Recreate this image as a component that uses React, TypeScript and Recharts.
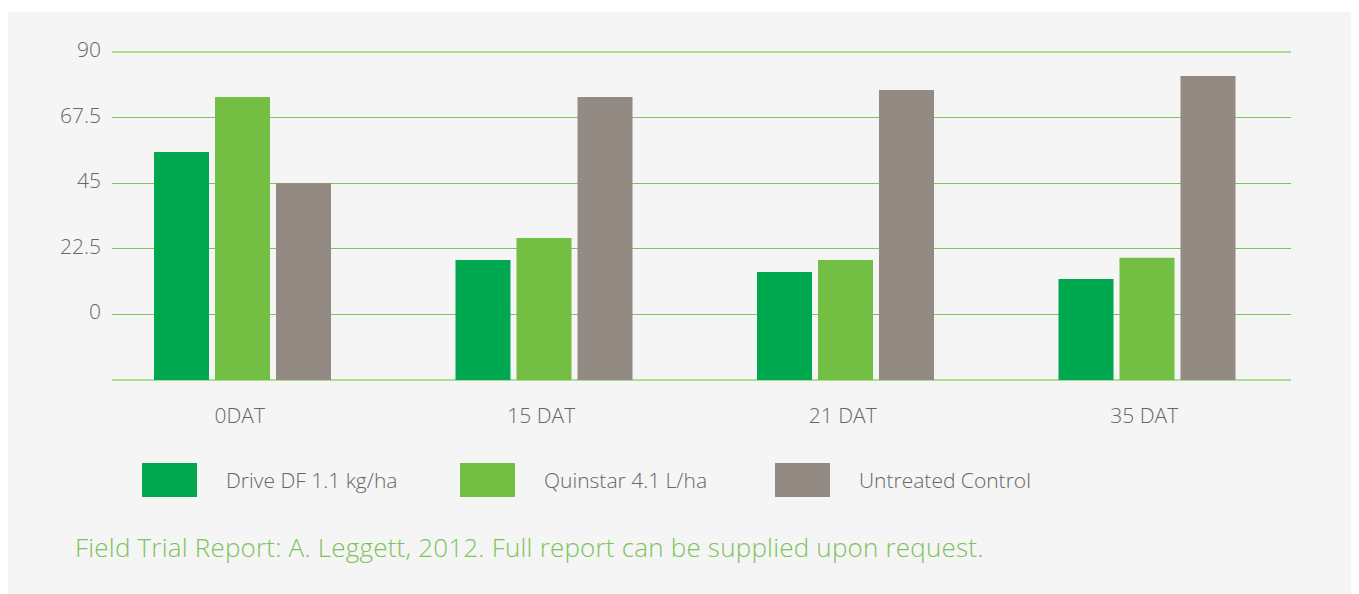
import { Bar, BarChart, CartesianGrid, XAxis, YAxis } from "recharts";

const categories = ["0DAT", "15 DAT", "21 DAT", "35 DAT"];
const driveValues = [55.7, 18.7, 14.5, 12.1];
const quinstarValues = [74.6, 26.2, 18.7, 19.4];
const untreatedValues = [45, 74.6, 77.0, 81.8];
const yTicks = [-22.5, 0, 22.5, 45, 67.5, 90];
const yFloor = yTicks[0];

const series = [
  { key: "drive", name: "Drive DF 1.1 kg/ha", color: "#00a94f" },
  { key: "quinstar", name: "Quinstar 4.1 L/ha", color: "#72bf44" },
  { key: "untreated", name: "Untreated Control", color: "#928a83" },
];

// bars stand on the bottom gridline, not on zero
const data = categories.map((label, i) => ({
  label,
  drive: [yFloor, driveValues[i]],
  quinstar: [yFloor, quinstarValues[i]],
  untreated: [yFloor, untreatedValues[i]],
}));

const FONT = "'Open Sans', Lato, sans-serif";
const TEXT = "#666666";

function YTick(props: any) {
  const { x, y, payload } = props;
  if (payload.value === yFloor) return null;
  return (
    <text x={x + 9} y={y} dy={5} textAnchor="end" fill={TEXT} fontSize={21} fontFamily={FONT} fontWeight={300}>
      {payload.value}
    </text>
  );
}

function XTick(props: any) {
  const { x, y, payload } = props;
  return (
    <text x={x - 3} y={y + 43} textAnchor="middle" fill={TEXT} fontSize={21} fontFamily={FONT} fontWeight={300}>
      {payload.value}
    </text>
  );
}

function GridLine(props: any) {
  const { x1, x2, y1, y2, index } = props;
  const edge = y1 < 45 || y1 > 360;
  return (
    <line
      key={`g-${index}`}
      x1={x1 + 20}
      x2={x2 - 7}
      y1={y1}
      y2={y2}
      stroke={edge ? "#addc95" : "#7cc55a"}
      strokeWidth={edge ? 2 : 1}
      shapeRendering="crispEdges"
    />
  );
}

export default function App() {
  return (
    <div
      style={{
        position: "relative",
        width: 1343,
        height: 582,
        marginTop: 4,
        background: "#f5f5f5",
        fontFamily: FONT,
      }}
    >
      <div style={{ position: "absolute", left: 0, top: 0 }}>
        <BarChart
          width={1343}
          height={440}
          data={data}
          margin={{ top: 40, right: 53, left: 0, bottom: 22 }}
          barSize={55}
          barGap={6}
        >
          <CartesianGrid vertical={false} horizontal={GridLine} />
          <XAxis
            dataKey="label"
            axisLine={false}
            tickLine={false}
            tickSize={0}
            tickMargin={0}
            height={50}
            tick={<XTick />}
          />
          <YAxis
            domain={[yFloor, 90]}
            ticks={yTicks}
            axisLine={false}
            tickLine={false}
            tickSize={0}
            tickMargin={0}
            width={84}
            tick={<YTick />}
          />
          {series.map((s) => (
            <Bar key={s.key} dataKey={s.key} name={s.name} fill={s.color} isAnimationActive={false} />
          ))}
        </BarChart>
      </div>
      {series.map((s, i) => {
        const left = [134, 452, 767][i];
        return (
          <div key={s.key} style={{ position: "absolute", left, top: 451, display: "flex", alignItems: "center" }}>
            <div style={{ width: 55, height: 34, background: s.color }} />
            <span style={{ marginLeft: 29, fontSize: 21, color: TEXT, fontWeight: 300 }}>{s.name}</span>
          </div>
        );
      })}
      <div
        style={{
          position: "absolute",
          left: 67,
          top: 517,
          fontSize: 26,
          color: "#7cc35a",
          fontWeight: 300,
          whiteSpace: "nowrap",
          letterSpacing: 0.2,
        }}
      >
        Field Trial Report: A. Leggett, 2012. Full report can be supplied upon request.
      </div>
    </div>
  );
}
